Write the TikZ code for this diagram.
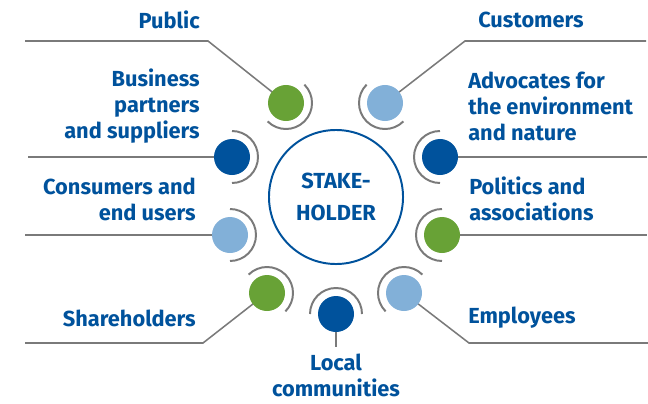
\documentclass[tikz,border=0pt]{standalone}
\usepackage{fontspec}
\setmainfont{Fira Sans}
\usepackage{xcolor}
\usepackage{tikz}
\usetikzlibrary{positioning,backgrounds}

\definecolor{shblue}{HTML}{00529C}
\definecolor{shlight}{HTML}{82B0D8}
\definecolor{shgreen}{HTML}{68A236}
\definecolor{shgray}{HTML}{7A7A7A}

\begin{document}
\begin{tikzpicture}[x=0.025cm,y=0.025cm,
    dot/.style={circle,minimum size=0.9cm,inner sep=0pt},
    link/.style={shgray,line width=1.1pt},
    ring/.style={shgray,line width=1.4pt},
    lbl/.style={text=shblue,inner sep=0pt,
                font=\fontsize{15.5}{18.5}\selectfont\bfseries}]
  \useasboundingbox (0,0) rectangle (648,403);

  % hub
  \node[circle,draw=shblue,line width=1.4pt,minimum size=3.35cm,
        lbl,align=center,font=\fontsize{15.5}{22.7}\selectfont\bfseries]
       (hub) at (336,206) {STAKE-\\HOLDER};

  % groups: name / x / y / colour / side of the ring
  \foreach \n/\x/\y/\c/\a in {public/286/300/shgreen/-45,
                               customers/385/300/shlight/225,
                               business/232/246/shblue/0,
                               advocates/440/246/shblue/180,
                               consumers/230/168/shlight/0,
                               politics/442/168/shgreen/180,
                               shareholders/267/110/shgreen/45,
                               local/336/89/shblue/90,
                               employees/404/110/shlight/135}{
    \node[dot,fill=\c] (\n) at (\x,\y) {};
    \draw[ring] (\n.center) ++(\a-90:26) arc[start angle=\a-90,delta angle=180,radius=26];
  }

  % free ends of the leader lines
  \foreach \n/\x/\y in {pubK/208/362, pubE/25/362, cusK/465/362, cusE/646/362,
                        busE/28/246, advE/647/246, conE/25/168, polE/647/168,
                        shaK/203/60, shaE/25/60, empK/469/60, empE/648/60,
                        locE/336/56}
    \coordinate (\n) at (\x,\y);

  \begin{scope}[on background layer]
    \draw[link] (public.center) -- (pubK) -- (pubE);
    \draw[link] (customers.center) -- (cusK) -- (cusE);
    \draw[link] (business.center) -- (busE);
    \draw[link] (advocates.center) -- (advE);
    \draw[link] (consumers.center) -- (conE);
    \draw[link] (politics.center) -- (polE);
    \draw[link] (shareholders.center) -- (shaK) -- (shaE);
    \draw[link] (employees.center) -- (empK) -- (empE);
    \draw[link] (local.center) -- (locE);
  \end{scope}

  % labels
  \node[lbl,anchor=east] (publicl) at (200,383) {Public};
  \node[lbl,anchor=east,align=right] (businessl) at (200,297)
       {Business\\partners\\and suppliers};
  \node[lbl,anchor=east,align=right] (consumersl) at (196,204)
       {Consumers and\\end users};
  \node[lbl,anchor=east] (shareholdersl) at (196,85) {Shareholders};
  \node[lbl,anchor=west] (customersl) at (478,383) {Customers};
  \node[lbl,anchor=west,align=left] (advocatesl) at (468,297)
       {Advocates for\\the environment\\and nature};
  \node[lbl,anchor=west,align=left] (politicsl) at (469,204)
       {Politics and\\associations};
  \node[lbl,anchor=west] (employeesl) at (468,85) {Employees};
  \node[lbl,align=center] (locall) at (336,28) {Local\\communities};
\end{tikzpicture}
\end{document}
